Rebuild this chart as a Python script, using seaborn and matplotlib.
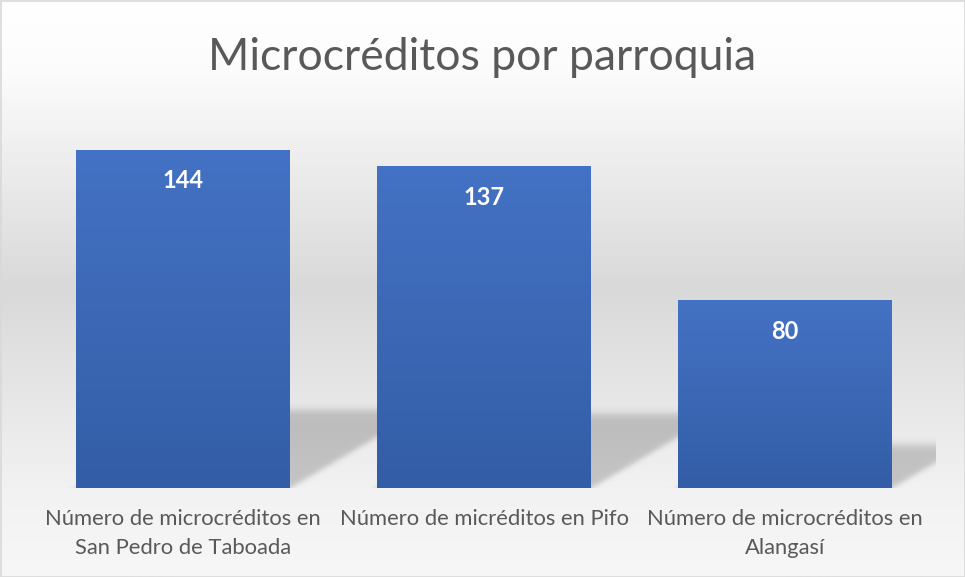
import numpy as np
import matplotlib
matplotlib.use("Agg")
import matplotlib.pyplot as plt
from matplotlib.colors import LinearSegmentedColormap, to_rgb
from matplotlib.patches import Rectangle
import seaborn as sns

# ---- data ----
categories = [
    "Número de microcréditos en\nSan Pedro de Taboada",
    "Número de micréditos en Pifo",
    "Número de microcréditos en\nAlangasí",
]
values = [144, 137, 80]
title = "Microcréditos por parroquia"

sns.set_theme(style="white")
plt.rcParams["font.family"] = ["Lato", "DejaVu Sans"]

W_PX, H_PX = 965, 577
fig = plt.figure(figsize=(9.65, 5.77), dpi=100)

# ---- chart-area gradient background ----
bg = fig.add_axes([0, 0, 1, 1], zorder=-10)
stops = [(0.0, "#ffffff"), (0.12, "#fcfcfc"), (0.5, "#d9d9d9"), (0.85, "#f2f2f2"), (1.0, "#f7f7f7")]
cmap_bg = LinearSegmentedColormap.from_list("bg", stops)
grad = np.linspace(0, 1, 512).reshape(-1, 1)
bg.imshow(grad, cmap=cmap_bg, aspect="auto", extent=(0, 1, 0, 1), origin="upper")
bg.set_xlim(0, 1); bg.set_ylim(0, 1)
bg.axis("off")

# ---- main axes ----
left = 32.5 / W_PX
bottom = (H_PX - 488) / H_PX
width = 903 / W_PX
height = (488 - 112) / H_PX
ax = fig.add_axes([left, bottom, width, height])
ax.set_facecolor("none")

sns.barplot(x=categories, y=values, color="#4472C4", saturation=1, width=0.71,
            linewidth=0, edgecolor="none", ax=ax, zorder=3)
ax.set_xlim(-0.5, 2.5)
ax.set_ylim(0, 160)
for s in ax.spines.values():
    s.set_visible(False)
ax.set_yticks([])
ax.set_ylabel("")
ax.set_xlabel("")
ax.tick_params(axis="x", length=0, pad=15, labelsize=15.8, labelcolor="#595959")
for lbl in ax.get_xticklabels():
    lbl.set_linespacing(1.6)

fig.canvas.draw()

# ---- gradient fill of bars ----
c_top = np.array(to_rgb("#4472C4"))
c_bot = np.array(to_rgb("#335DA6"))
t = np.linspace(0, 1, 256).reshape(-1, 1, 1)
bar_grad = (c_bot * (1 - t) + c_top * t)  # origin lower: bottom row first
bar_grad = np.repeat(bar_grad, 2, axis=1)
for p in ax.patches:
    x0, w, h = p.get_x(), p.get_width(), p.get_height()
    im = ax.imshow(bar_grad, extent=(x0, x0 + w, 0, h), origin="lower",
                   aspect="auto", zorder=4, interpolation="bilinear")
    im.set_clip_path(p)
ax.set_xlim(-0.5, 2.5)
ax.set_ylim(0, 160)

# ---- perspective shadows ----
ax_x0, ax_y0 = ax.transAxes.transform((0, 0))
ax_x1, ax_y1 = ax.transAxes.transform((1, 1))
Wp, Hp = int(round(ax_x1 - ax_x0)), int(round(ax_y1 - ax_y0))
X, Y = np.meshgrid(np.arange(Wp) + 0.5, np.arange(Hp) + 0.5)


def soft(d, b):
    return 1.0 / (1.0 + np.exp(-d / b * 3.0))


alpha = np.zeros_like(X)
for p in ax.patches:
    bx0 = ax.transData.transform((p.get_x(), 0))[0] - ax_x0
    bx1 = ax.transData.transform((p.get_x() + p.get_width(), 0))[0] - ax_x0
    hbar = ax.transData.transform((0, p.get_height()))[1] - ax_y0
    hs = 0.23 * hbar
    k = 1.7
    u = X - Y * k
    a = soft(hs - Y, 7) * soft(u - bx0, 9) * soft(bx1 - u, 9)
    alpha = np.maximum(alpha, a)
shadow = np.zeros((Hp, Wp, 4))
shadow[..., 3] = alpha * 0.19
ax.imshow(shadow, extent=(-0.5, 2.5, 0, 160), origin="lower", aspect="auto", zorder=2)
ax.set_xlim(-0.5, 2.5)
ax.set_ylim(0, 160)

# ---- value labels ----
for p, v in zip(ax.patches, values):
    ax.annotate(f"{v}", (p.get_x() + p.get_width() / 2, p.get_height()),
                xytext=(0, -22.5), textcoords="offset points", ha="center", va="center",
                color="white", fontsize=17, fontweight="bold", zorder=6)

# ---- title ----
fig.text(0.5, 1 - 70 / H_PX, title, ha="center", va="baseline",
         fontsize=32, color="#595959")

# ---- border ----
fig.patches.append(Rectangle((0.5 / W_PX, 0.5 / H_PX), 1 - 1 / W_PX, 1 - 1 / H_PX,
                             transform=fig.transFigure, fill=False,
                             edgecolor="#d9d9d9", linewidth=1.2, zorder=20))

fig.savefig("out.png", dpi=100)
